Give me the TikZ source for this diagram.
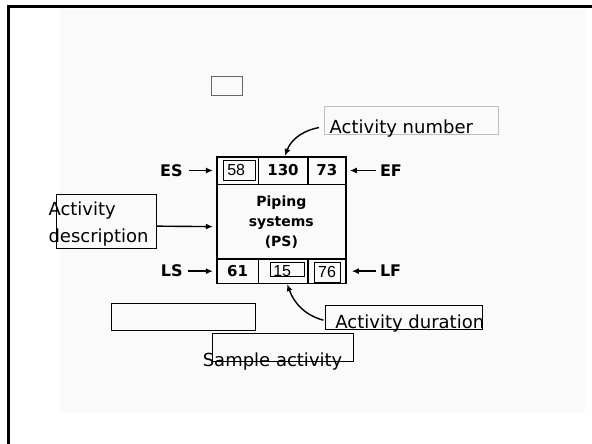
\documentclass[tikz,border=0pt]{standalone}
\usepackage{fontspec}
\newfontfamily\notefont{DejaVu Sans}
\newfontfamily\numfont{Liberation Sans}
\usetikzlibrary{arrows.meta, positioning}

\begin{document}
\begin{tikzpicture}[
    x=1pt, y=-1pt,
    cell/.style={draw, line width=1.6pt, inner sep=0, align=center, font=\notefont\bfseries\fontsize{15}{20}\selectfont},
    numbox/.style={draw, line width=0.8pt, inner sep=0, font=\numfont\fontsize{16}{18}\selectfont},
    side/.style={inner sep=0, font=\notefont\bfseries\fontsize{16}{18}\selectfont},
    tagbox/.style={draw, line width=0.8pt, inner sep=0},
    tagtext/.style={inner sep=0, font=\notefont\fontsize{18}{27}\selectfont},
    arr/.style={-{Latex[length=7pt, width=6pt]}, line width=1.4pt}
  ]
  \useasboundingbox (0,0) rectangle (592,444);
  \fill[black!2] (60,9) rectangle (585,413);
  \draw[line width=3pt] (8,444) -- (8,6.7) -- (592,6.7);

  % activity box
  \node[cell, minimum width=41.6pt, minimum height=27.6pt] (escell) at (237.5,170.5) {};
  \node[cell, minimum width=49.4pt, minimum height=27.6pt] (numcell) at (283,170.5) {130};
  \node[cell, minimum width=38.3pt, minimum height=27.6pt] (efcell) at (326.85,170.5) {73};
  \node[cell, font=\notefont\bfseries\fontsize{14}{20}\selectfont, minimum width=129.3pt, minimum height=74.7pt] (desccell) at (281.35,221.65) {Piping\\systems\\(PS)};
  \node[cell, minimum width=41.6pt, minimum height=24.3pt] (lscell) at (237.5,271.15) {61};
  \node[cell, minimum width=49.7pt, minimum height=24.3pt] (durcell) at (283.15,271.15) {};
  \node[cell, minimum width=38pt, minimum height=24.3pt] (lfcell) at (327,271.15) {};

  % typed numbers
  \node[numbox, minimum width=32.7pt, minimum height=19.3pt] (es58) at (239.3,170.3) {\makebox[24pt][l]{58}};
  \node[numbox, minimum width=34pt, inner xsep=3.3pt, text height=14.4pt, text depth=0pt] (dur15) at (287,269.5) {\makebox[27.4pt][l]{15}};
  \node[numbox, minimum width=26pt, minimum height=20pt] (lf76) at (327,272) {76};

  % ES, EF, LS, LF
  \node[side, left=33pt of escell] (es) {ES};
  \node[side, right=33pt of efcell] (ef) {EF};
  \node[side, left=33pt of lscell] (ls) {LS};
  \node[side, right=33pt of lfcell] (lf) {LF};
  \draw[arr, shorten <=6pt, shorten >=3pt] (es) -- (escell);
  \draw[arr, shorten <=4pt, shorten >=3pt] (ef) -- (efcell);
  \draw[arr, shorten <=5pt, shorten >=3pt] (ls) -- (lscell);
  \draw[arr, shorten <=4pt, shorten >=5pt] (lf) -- (lfcell);

  % text boxes
  \node[tagbox, draw=black!60, minimum width=31pt, minimum height=19pt] (blank1) at (227.2,85.5) {};
  \node[tagbox, tagtext, draw=black!25, anchor=base west, inner xsep=5.5pt, text height=26.3pt, text depth=1.3pt] (numtag) at (323.8,133) {\makebox[163.2pt][l]{Activity number}};
  \node[tagbox, tagtext, anchor=base west, inner xsep=9.7pt, text height=23pt, text depth=1.3pt] (durtag) at (325.3,328) {\makebox[137.2pt][l]{Activity duration}};
  \node[tagbox, minimum width=100.7pt, minimum height=54.3pt] (desctag) at (106.35,221.15) {};
  \node[tagtext, align=left, anchor=north west] (desctext) at (48.3,201.3) {Activity\\description};
  \node[tagbox, minimum width=143.3pt, minimum height=27.4pt] (blank2) at (183.35,317) {};
  \node[tagbox, minimum width=141.6pt, minimum height=28.4pt] (sample) at (282.8,347.5) {};
  \node[tagtext, anchor=base west] (sampletext) at (202.6,366) {Sample activity};

  % pointers
  \draw[arr, shorten >=3pt] ([yshift=-5pt]desctag.east) -- ([yshift=-5pt]desccell.west);
  \draw[arr, shorten <=5pt] ([yshift=8pt]numtag.south west) to[out=190, in=70] ([xshift=2pt]numcell.north);
  \draw[arr, shorten <=2pt] ([yshift=9pt]durtag.south west) to[out=165, in=290] ([xshift=4pt]durcell.south);
\end{tikzpicture}
\end{document}
